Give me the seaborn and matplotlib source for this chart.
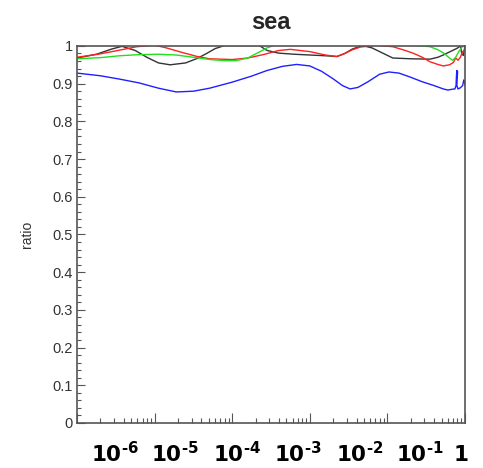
import numpy as np
import matplotlib
matplotlib.use('Agg')
import matplotlib.pyplot as plt
import matplotlib.ticker as mticker
import seaborn as sns

black_logx = [-5.0, -4.75, -4.55, -4.42, -4.25, -4.1, -3.95, -3.8, -3.6, -3.45, -3.33, -3.22, -3.1,
              -2.65, -2.55, -2.4, -2.2, -2.0, -1.8, -1.65, -1.55, -1.45, -1.32, -1.2, -1.05, -0.93,
              -0.7, -0.45, -0.35, -0.28, -0.18, -0.1, -0.06, -0.04, -0.02, 0.0]
black_ratio = [0.968, 0.978, 0.992, 0.999, 0.988, 0.970, 0.955, 0.950, 0.955, 0.967, 0.980, 0.993, 1.001,
               1.001, 0.988, 0.981, 0.978, 0.976, 0.974, 0.972, 0.980, 0.992, 1.001, 0.995, 0.980, 0.968,
               0.966, 0.965, 0.970, 0.976, 0.986, 0.994, 1.0, 0.978, 0.975, 1.0]

red_logx = [-5.0, -4.7, -4.45, -4.23, -4.0, -3.85, -3.65, -3.45, -3.29, -3.0, -2.8, -2.6, -2.4, -2.25,
            -2.0, -1.8, -1.65, -1.55, -1.45, -1.35, -1.15, -0.93, -0.8, -0.67, -0.55, -0.45, -0.35,
            -0.28, -0.2, -0.15, -0.12, -0.09, -0.06, -0.03, 0.0]
red_ratio = [0.970, 0.979, 0.989, 0.998, 1.002, 0.995, 0.983, 0.972, 0.966, 0.964, 0.968, 0.977, 0.988, 0.991,
             0.985, 0.976, 0.972, 0.980, 0.990, 0.997, 1.002, 0.998, 0.990, 0.981, 0.970, 0.958, 0.951,
             0.947, 0.950, 0.956, 0.968, 0.962, 0.970, 0.985, 0.990]

green_logx = [-5.0, -4.7, -4.45, -4.2, -3.95, -3.72, -3.5, -3.29, -3.1, -2.95, -2.8, -2.65, -2.55, -2.45,
              -1.0, -0.6, -0.45, -0.35, -0.28, -0.2, -0.16, -0.12, -0.08, -0.04, 0.0]
green_ratio = [0.966, 0.969, 0.974, 0.977, 0.978, 0.976, 0.970, 0.964, 0.961, 0.961, 0.968, 0.984, 0.995, 1.002,
               1.002, 1.001, 0.998, 0.990, 0.982, 0.968, 0.962, 0.970, 0.985, 0.997, 1.0]

# the blue curve curls back on itself near x = 1, so point order matters
blue_logx = [-5.0, -4.7, -4.45, -4.2, -3.95, -3.72, -3.5, -3.29, -3.0, -2.75, -2.55, -2.35, -2.17, -2.0,
             -1.85, -1.7, -1.58, -1.48, -1.38, -1.25, -1.1, -0.98, -0.85, -0.7, -0.55, -0.4, -0.28,
             -0.22, -0.17, -0.13, -0.115, -0.11, -0.105, -0.095, -0.1, -0.105, -0.09, -0.06, -0.03,
             -0.015, -0.005, 0.0]
blue_ratio = [0.928, 0.921, 0.912, 0.902, 0.888, 0.878, 0.880, 0.888, 0.904, 0.920, 0.935, 0.946, 0.951, 0.947,
              0.933, 0.913, 0.895, 0.886, 0.890, 0.905, 0.925, 0.931, 0.928, 0.917, 0.905, 0.895, 0.886,
              0.883, 0.885, 0.886, 0.895, 0.920, 0.935, 0.932, 0.915, 0.895, 0.886, 0.889, 0.895,
              0.910, 0.905, 0.895]

x_labels = ['10^{‐6}', '10^{‐5}', '10^{‐4}', '10^{‐3}', '10^{‐2}', '10^{‐1}', '1']


def plot_ratio():
    sns.set_theme(style='white')
    plt.rcParams['font.family'] = ['Liberation Sans', 'DejaVu Sans']
    plt.rcParams['mathtext.fontset'] = 'dejavusans'

    fig = plt.figure(figsize=(4.83, 4.68), dpi=100)
    ax = fig.add_axes([0.1594, 0.0962, 0.8033, 0.8056])

    series = [(black_logx, black_ratio, '#333333'),
              (red_logx, red_ratio, '#ff2020'),
              (green_logx, green_ratio, '#20e020'),
              (blue_logx, blue_ratio, '#2020ff')]
    for logx, ratio, color in series:
        sns.lineplot(x=np.power(10.0, logx), y=ratio, sort=False, estimator=None,
                     color=color, lw=1.0, ax=ax)

    ax.set_xscale('log')
    ax.set_xlim(1e-5, 1)
    ax.set_ylim(0, 1)

    # ROOT-like axes: inward ticks, no x labels on the axis itself
    ax.xaxis.set_major_locator(mticker.LogLocator(base=10))
    ax.xaxis.set_minor_locator(mticker.LogLocator(base=10, subs=np.arange(2, 10)))
    ax.xaxis.set_major_formatter(mticker.NullFormatter())
    ax.xaxis.set_minor_formatter(mticker.NullFormatter())
    ax.yaxis.set_major_locator(mticker.MultipleLocator(0.1))
    ax.yaxis.set_minor_locator(mticker.MultipleLocator(0.02))
    ax.yaxis.set_major_formatter(mticker.FormatStrFormatter('%g'))
    ax.tick_params(axis='x', which='major', direction='in', length=7, width=0.8, color='#555555',
                   bottom=True, top=False)
    ax.tick_params(axis='x', which='minor', direction='in', length=3.5, width=0.8, color='#555555',
                   bottom=True, top=False)
    ax.tick_params(axis='y', which='major', direction='in', length=6, width=0.8, color='#555555',
                   left=True, right=False, labelsize=10.5, labelcolor='#333333', pad=3)
    ax.tick_params(axis='y', which='minor', direction='in', length=3, width=0.8, color='#555555',
                   left=True, right=False)
    for spine in ax.spines.values():
        spine.set_color('#555555')
        spine.set_linewidth(1.2)

    ax.set_xlabel('')
    ax.set_ylabel('ratio', fontsize=10, color='#333333')
    ax.yaxis.set_label_coords(-0.11, 0.5)
    ax.set_title('sea', fontsize=17, fontweight='bold', pad=12)

    # decade labels drawn as text under the frame
    label_pos = [0.098, 0.253, 0.412, 0.570, 0.729, 0.884, 0.990]
    for pos, lab in zip(label_pos, x_labels):
        ax.text(pos, -0.085, r'$\mathbf{' + lab + '}$', transform=ax.transAxes,
                ha='center', va='center', fontsize=15.5, color='black')

    fig.savefig('out.png', dpi=100)


if __name__ == "__main__":
    plot_ratio()
